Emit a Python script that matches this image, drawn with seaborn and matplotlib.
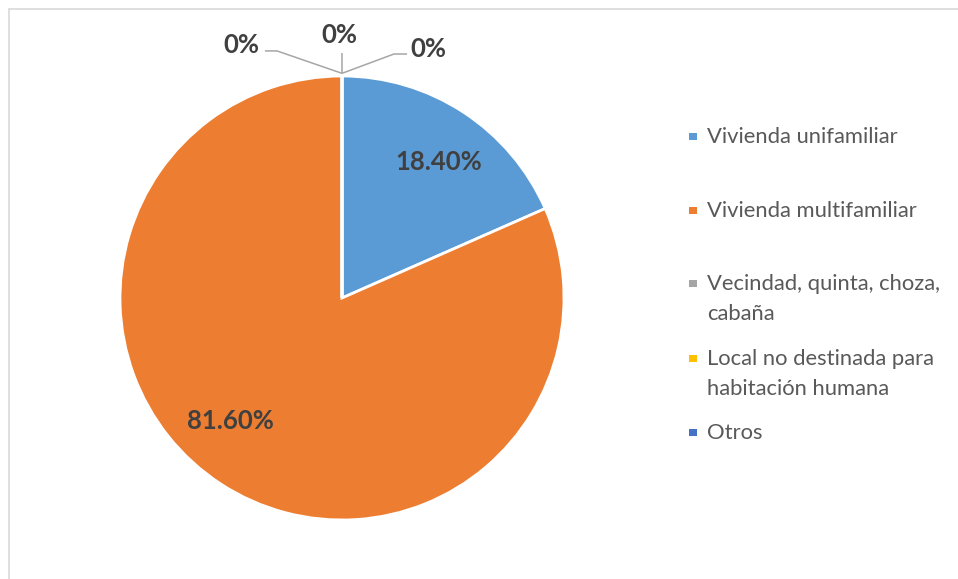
import matplotlib
matplotlib.use("Agg")
import matplotlib.pyplot as plt
import seaborn as sns
from matplotlib.lines import Line2D
from matplotlib.patches import Rectangle
import numpy as np

# Housing type shares
categories = ["Vivienda unifamiliar", "Vivienda multifamiliar",
              "Vecindad, quinta, choza, cabaña",
              "Local no destinada para habitación humana", "Otros"]
legend_lines = [["Vivienda unifamiliar"], ["Vivienda multifamiliar"],
                ["Vecindad, quinta, choza,", "cabaña"],
                ["Local no destinada para", "habitación humana"], ["Otros"]]
shares = [18.40, 81.60, 0.0, 0.0, 0.0]
value_labels = ["18.40%", "81.60%", "0%", "0%", "0%"]
colors = ["#5B9BD5", "#ED7D31", "#A5A5A5", "#FFC000", "#4472C4"]

sns.set_theme(style="white")
plt.rcParams["font.family"] = ["Lato", "DejaVu Sans"]

W, H = 958, 579
fig = plt.figure(figsize=(W / 100, H / 100), dpi=100)
fig.patch.set_facecolor("white")

# pie placement (pixels): centre and radius
cx, cy, R = 342, 298, 222
ax = fig.add_axes([(cx - R) / W, (H - cy - R) / H, 2 * R / W, 2 * R / H])
wedges, _ = ax.pie(shares, colors=colors, startangle=90, counterclock=False,
                   radius=1, wedgeprops=dict(edgecolor="white", linewidth=2))
ax.set_xlim(-1, 1)
ax.set_ylim(-1, 1)
ax.set_aspect("equal")
ax.axis("off")

label_color = "#404040"
label_kw = dict(fontsize=18.5, fontweight="bold", color=label_color)

# labels inside the two visible slices
inner_pos = [(0.437, 0.623), (-0.504, -0.546)]
for i, (x, y) in enumerate(inner_pos):
    ax.text(x, y, value_labels[i], ha="center", va="center_baseline", **label_kw)

# zero-share slices: labels with leader lines from the slice edge
leaders = [  # (elbow, end, label position, alignment)
    ((-0.293, 1.113), (-0.347, 1.113), (-0.374, 1.149), "right"),
    ((0.0, 1.104), (0.0, 1.104), (-0.013, 1.194), "center"),
    ((0.234, 1.099), (0.293, 1.099), (0.306, 1.131), "left"),
]
for k, (elbow, end, lpos, ha) in zip(range(2, 5), leaders):
    ang = np.deg2rad(wedges[k].theta1)
    sx, sy = 1.012 * np.cos(ang), 1.012 * np.sin(ang)
    ax.plot([sx, elbow[0], end[0]], [sy, elbow[1], end[1]],
            color="#A6A6A6", lw=1.1, clip_on=False, solid_capstyle="butt")
    ax.text(lpos[0], lpos[1], value_labels[k], ha=ha, va="center_baseline",
            **label_kw)

# legend entries (first-line baselines in pixels, 30 px line step)
baselines = [143, 217, 290, 365, 439]
line_step = 30
for lines, col, yb in zip(legend_lines, colors, baselines):
    fig.add_artist(Rectangle((689 / W, 1 - (yb - 3) / H), 8 / W, 7 / H,
                             transform=fig.transFigure, facecolor=col,
                             edgecolor="none"))
    for j, line in enumerate(lines):
        fig.text(707 / W, 1 - (yb + j * line_step) / H, line, ha="left",
                 va="baseline", fontsize=15.8, color="#595959")

# chart area border (top and left edges)
border = "#D9D9D9"
fig.add_artist(Line2D([8.5 / W, 1], [1 - 8.5 / H, 1 - 8.5 / H],
                      transform=fig.transFigure, color=border, lw=1.2))
fig.add_artist(Line2D([8.5 / W, 8.5 / W], [0, 1 - 8.5 / H],
                      transform=fig.transFigure, color=border, lw=1.2))

fig.savefig("out.png", dpi=100, facecolor="white")
